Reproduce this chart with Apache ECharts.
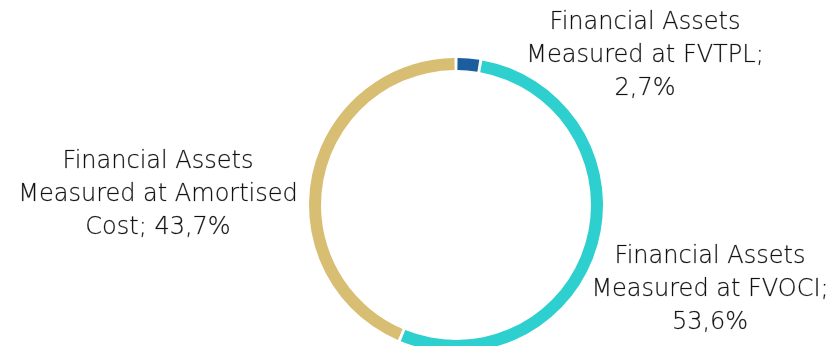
<!DOCTYPE html>
<html>
<head>
<meta charset="utf-8">
<script src="https://cdn.jsdelivr.net/npm/echarts@6/dist/echarts.min.js"></script>
<style>
  html, body { margin: 0; padding: 0; background: #fff; }
  #chart { width: 835px; height: 346px; }
</style>
</head>
<body>
<div id="chart"></div>
<script>
const categories = ['Financial Assets\nMeasured at FVTPL;', 'Financial Assets\nMeasured at FVOCI;', 'Financial Assets\nMeasured at Amortised\nCost;']
const shares = [2.7, 53.6, 43.7]
const colors = ['#1a5e9f', '#2ecfcf', '#d8be72']
// label anchor points (centre x, top y) for each slice
const labelSpots = [[645, 6], [710, 240], [158, 145]]

const fmt = v => v.toFixed(1).replace('.', ',') + '%'

const labelText = [
  'Financial Assets\nMeasured at FVTPL;\n' + fmt(shares[0]),
  'Financial Assets\nMeasured at FVOCI;\n' + fmt(shares[1]),
  'Financial Assets\nMeasured at Amortised\nCost; ' + fmt(shares[2])
]

const chart = echarts.init(document.getElementById('chart'))
chart.setOption({
  animation: false,
  series: [{
    type: 'pie',
    center: [456, 205],
    radius: [135, 147],
    startAngle: 90,
    clockwise: true,
    padAngle: 1.2,
    itemStyle: { borderWidth: 0 },
    label: {
      show: true,
      position: 'outside',
      formatter: p => labelText[p.dataIndex],
      fontFamily: 'DejaVu Sans',
      fontWeight: 300,
      fontSize: 24,
      lineHeight: 33,
      color: '#111',
      textBorderColor: 'rgba(17,17,17,0.35)',
      textBorderWidth: 0.6,
      align: 'center',
      overflow: 'none'
    },
    labelLine: { show: false },
    labelLayout: p => ({
      x: labelSpots[p.dataIndex][0],
      y: labelSpots[p.dataIndex][1],
      align: 'center',
      verticalAlign: 'top',
      width: 400
    }),
    data: categories.map((c, i) => ({
      name: c,
      value: shares[i],
      itemStyle: { color: colors[i] }
    }))
  }]
})
</script>
</body>
</html>
